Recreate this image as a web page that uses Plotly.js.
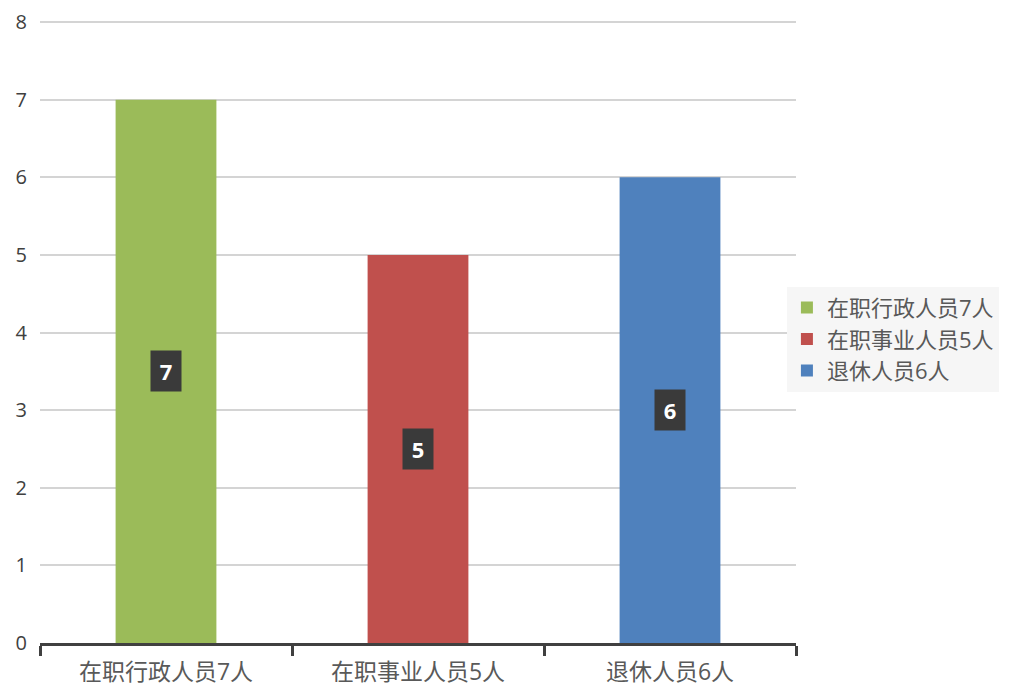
<!DOCTYPE html>
<html><head><meta charset="utf-8">
<script src="https://cdn.plot.ly/plotly-3.0.1.min.js"></script>
<style>html,body{margin:0;padding:0;background:#fff;}#chart{width:1013px;height:686px;}</style>
</head><body><div id="chart"></div>
<script>
const categories = ["在职行政人员7人", "在职事业人员5人", "退休人员6人"];
const values = [7, 5, 6];
const colors = ["#9bbb59", "#c0504d", "#4f81bd"];
const yTicks = [0, 1, 2, 3, 4, 5, 6, 7, 8];

const FONT = "'Open Sans', 'Noto Sans CJK SC', sans-serif";

const traces = categories.map((c, i) => ({
  type: "bar",
  name: c,
  x: [c],
  y: [values[i]],
  width: 0.4,
  marker: {color: colors[i]},
  hoverinfo: "x+y"
}));

const annotations = categories.map((c, i) => ({
  x: c, y: values[i] / 2, xref: "x", yref: "y",
  text: "<b>" + values[i] + "</b>",
  showarrow: false,
  font: {family: FONT, size: 22, color: "#ffffff"},
  bgcolor: "#3a3a3a",
  width: 30, height: 40,
  borderpad: 0
}));

const layout = {
  width: 1013, height: 686,
  margin: {l: 40, r: 217, t: 19, b: 43},
  paper_bgcolor: "#ffffff",
  plot_bgcolor: "#ffffff",
  barmode: "overlay",
  font: {family: FONT, color: "#595959"},
  showlegend: true,
  legend: {
    x: 0.988, xanchor: "left", y: 0.487, yanchor: "middle",
    bgcolor: "#f6f6f6",
    font: {family: FONT, size: 22, color: "#595959"},
    itemwidth: 30, tracegroupgap: 0,
    traceorder: "normal"
  },
  xaxis: {
    type: "category",
    categoryorder: "array", categoryarray: categories,
    showgrid: false,
    showline: true, linecolor: "#404040", linewidth: 3,
    ticks: "outside", tickson: "boundaries", ticklen: 10, tickwidth: 3, tickcolor: "#404040",
    tickfont: {family: FONT, size: 23, color: "#595959"},
    ticklabelstandoff: 6,
    zeroline: false
  },
  yaxis: {
    range: [0, 8.04],
    tickvals: yTicks,
    ticktext: yTicks.map(String),
    showgrid: true, gridcolor: "#d4d4d4", gridwidth: 2,
    showline: false, zeroline: false,
    ticks: "", ticklabelstandoff: 12,
    tickfont: {family: FONT, size: 20, color: "#404040"}
  },
  annotations: annotations
};

Plotly.newPlot("chart", traces, layout, {displayModeBar: false, staticPlot: true});
</script></body></html>
